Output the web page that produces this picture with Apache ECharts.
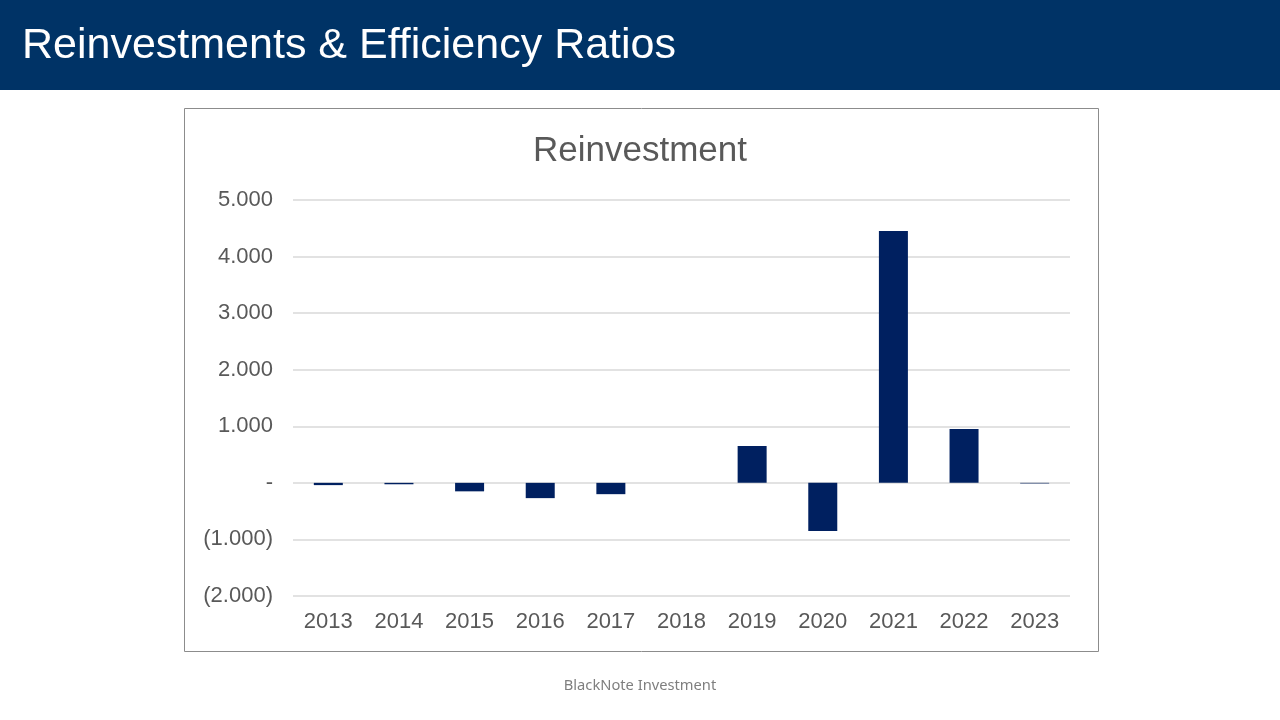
<!DOCTYPE html>
<html><head><meta charset="utf-8">
<script src="https://cdn.jsdelivr.net/npm/echarts@6/dist/echarts.min.js"></script>
<style>html,body{margin:0;padding:0;background:#fff}#c{width:1280px;height:720px}</style>
</head><body><div id="c"></div>
<script>
const categories = ['2013','2014','2015','2016','2017','2018','2019','2020','2021','2022','2023'];
const reinvestment = [-40, -25, -150, -270, -200, 0, 650, -850, 4450, 950, -10];
const yTicks = {min: -2000, max: 5000, interval: 1000};

function fmt(v){
  if (v === 0) return '-';
  const s = Math.abs(v).toLocaleString('de-DE');
  return v < 0 ? '(' + s + ')' : s;
}

const chart = echarts.init(document.getElementById('c'));
chart.setOption({
  animation: false,
  backgroundColor: '#ffffff',
  graphic: [
    {type:'rect', shape:{x:0,y:0,width:1280,height:90}, style:{fill:'#003366'}, z:0},
    {type:'text', left:22, top:25, style:{text:'Reinvestments & Efficiency Ratios', fill:'#ffffff', font:'43px "Liberation Sans", Arial, sans-serif'}},
    {type:'rect', shape:{x:184.5,y:108.5,width:914,height:543}, style:{fill:'none', stroke:'#8c8c8c', lineWidth:1}, z:0},
    {type:'text', left:'center', top:678, style:{text:'BlackNote Investment', fill:'#7f7f7f', font:'14.7px "Noto Sans", "Liberation Sans", sans-serif'}}
  ],
  title: {
    text: 'Reinvestment', left: 'center', top: 129,
    textStyle: {color:'#595959', fontSize:35, fontWeight:'normal', fontFamily:'"Liberation Sans", Arial, sans-serif'}
  },
  grid: {left: 293, right: 210, top: 200, bottom: 124},
  xAxis: {
    type: 'category', data: categories,
    axisLine: {show:false, onZero:false}, axisTick: {show:false},
    axisLabel: {color:'#595959', fontSize:22, margin:15, fontFamily:'"Liberation Sans", Arial, sans-serif'}
  },
  yAxis: {
    type: 'value', min: yTicks.min, max: yTicks.max, interval: yTicks.interval,
    axisLine: {show:false}, axisTick: {show:false},
    splitLine: {lineStyle:{color:'#d9d9d9', width:1.5}},
    axisLabel: {color:'#595959', fontSize:22, margin:20, formatter: fmt, fontFamily:'"Liberation Sans", Arial, sans-serif'}
  },
  series: [{
    type: 'bar', data: reinvestment, barWidth: 29,
    itemStyle: {color:'#002060'}
  }]
});
</script></body></html>
